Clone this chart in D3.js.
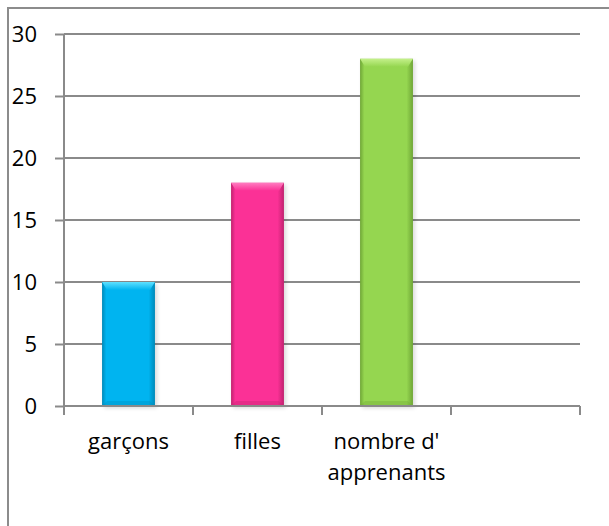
<!DOCTYPE html>
<html>
<head>
<meta charset="UTF-8">
<script src="https://cdn.jsdelivr.net/npm/d3@7"></script>
<style>
  body { margin: 0; background: #fff; }
  svg text { font-family: "Open Sans", Calibri, sans-serif; fill: #000; }
</style>
</head>
<body>
<script>
// data
const categories = ["garçons", "filles", "nombre d' apprenants", ""]
const labelLines = [["garçons"], ["filles"], ["nombre d'", "apprenants"], []]
const values = [10, 18, 28, null]
const barColors = [
  { main: "#00b4f0", light: "#5ee0ff", dark: "#0089b8" },
  { main: "#fb3196", light: "#ff7cc0", dark: "#c0226f" },
  { main: "#95d650", light: "#c4f08a", dark: "#6fa636" }
]
const yTicks = [0, 5, 10, 15, 20, 25, 30]

const W = 609, H = 526
const plotL = 64, plotR = 580, plotT = 34, plotB = 406
const fontSize = "22px"

const svg = d3.select("body").append("svg")
  .attr("width", W).attr("height", H)

const defs = svg.append("defs")
barColors.forEach((c, i) => {
  const g = defs.append("linearGradient").attr("id", "bar" + i)
    .attr("x1", "0").attr("x2", "1").attr("y1", "0").attr("y2", "0")
  g.append("stop").attr("offset", "0").attr("stop-color", c.dark)
  g.append("stop").attr("offset", "0.08").attr("stop-color", c.main)
  g.append("stop").attr("offset", "0.88").attr("stop-color", c.main)
  g.append("stop").attr("offset", "1").attr("stop-color", c.dark)
  const t = defs.append("linearGradient").attr("id", "top" + i)
    .attr("x1", "0").attr("x2", "0").attr("y1", "0").attr("y2", "1")
  t.append("stop").attr("offset", "0").attr("stop-color", c.light)
  t.append("stop").attr("offset", "1").attr("stop-color", c.main)
})
const blur = defs.append("filter").attr("id", "shadow")
  .attr("x", "-20%").attr("y", "-5%").attr("width", "140%").attr("height", "115%")
blur.append("feGaussianBlur").attr("stdDeviation", 2)

// outer frame (cut off on the right and bottom)
svg.append("rect")
  .attr("x", 8).attr("y", 8).attr("width", W).attr("height", H)
  .attr("fill", "none").attr("stroke", "#8c8c8c").attr("stroke-width", 2)

const y = d3.scaleLinear().domain([0, 30]).range([plotB, plotT])
const xCat = d3.scaleBand().domain(categories).range([plotL, plotR])
const x = d3.scaleBand().domain(categories).range([plotL, plotR])
  .paddingInner(0.59).paddingOuter(0.295)

// gridlines
svg.append("g").selectAll("line")
  .data(yTicks.filter(d => d > 0))
  .join("line")
  .attr("x1", plotL).attr("x2", plotR)
  .attr("y1", d => y(d)).attr("y2", d => y(d))
  .attr("stroke", "#8a8a8a").attr("stroke-width", 2)

// y axis
const yAxis = svg.append("g")
  .attr("transform", `translate(${plotL},0)`)
  .call(d3.axisLeft(y).tickValues(yTicks).tickSize(9).tickPadding(18))
yAxis.selectAll("path, line").attr("stroke", "#8a8a8a").attr("stroke-width", 2)
yAxis.select(".domain").attr("d", `M0,${plotT}V${plotB}`)
yAxis.selectAll("text")
  .style("font-family", "'Open Sans', Calibri, sans-serif")
  .style("font-size", fontSize).attr("fill", "#000")

// bars
const bars = svg.append("g")
values.forEach((v, i) => {
  if (v == null) return
  const bx = x(categories[i]), bw = x.bandwidth(), by = y(v), bh = y(0) - y(v)
  const c = barColors[i]
  bars.append("rect")
    .attr("x", bx + 2).attr("y", by + 2).attr("width", bw).attr("height", bh)
    .attr("fill", "#000").attr("opacity", 0.15).attr("filter", "url(#shadow)")
  bars.append("rect")
    .attr("x", bx).attr("y", by).attr("width", bw).attr("height", bh)
    .attr("fill", `url(#bar${i})`)
  // bevel on top
  bars.append("path")
    .attr("d", `M${bx},${by}H${bx + bw}L${bx + bw - 5},${by + 8}H${bx + 5}Z`)
    .attr("fill", `url(#top${i})`)
  // bevel at the bottom
  bars.append("path")
    .attr("d", `M${bx},${by + bh}H${bx + bw}L${bx + bw - 5},${by + bh - 5}H${bx + 5}Z`)
    .attr("fill", c.dark).attr("opacity", 0.35)
})

// x axis
const xg = svg.append("g")
xg.append("line")
  .attr("x1", plotL).attr("x2", plotR).attr("y1", plotB).attr("y2", plotB)
  .attr("stroke", "#8a8a8a").attr("stroke-width", 2)
const bounds = categories.map(c => xCat(c)).concat([plotR])
xg.selectAll(".tk").data(bounds).join("line")
  .attr("x1", d => d).attr("x2", d => d)
  .attr("y1", plotB).attr("y2", plotB + 9)
  .attr("stroke", "#8a8a8a").attr("stroke-width", 2)

xg.selectAll(".lbl").data(categories).join("text")
  .attr("text-anchor", "middle")
  .attr("x", d => xCat(d) + xCat.bandwidth() / 2)
  .attr("y", 449)
  .style("font-size", fontSize)
  .each(function (d, i) {
    d3.select(this).selectAll("tspan").data(labelLines[i]).join("tspan")
      .attr("x", xCat(d) + xCat.bandwidth() / 2)
      .attr("dy", (t, j) => j === 0 ? 0 : 31)
      .text(t => t)
  })
</script>
</body>
</html>
